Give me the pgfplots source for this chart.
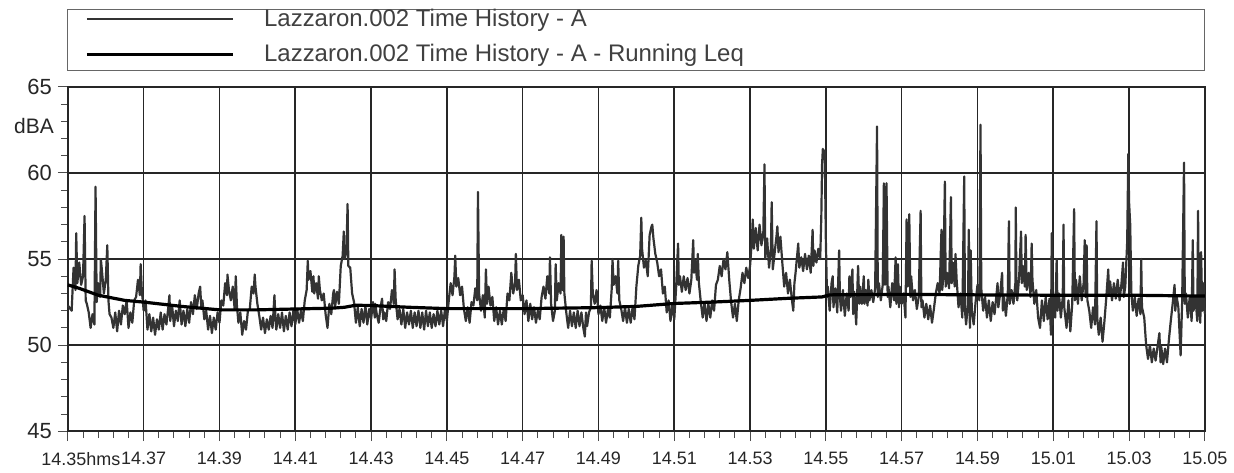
\documentclass[border=0pt]{standalone}
\usepackage{fontspec}
\setmainfont{Liberation Sans}
\usepackage{pgfplots}
\pgfplotsset{compat=1.18}

\begin{document}
\begin{tikzpicture}
\begin{axis}[
  name=ax,
  width=569.5pt, height=172.5pt, scale only axis,
  xmin=0, xmax=30, ymin=45, ymax=65,
  xtick={0,2,...,30},
  xticklabels={14.35\rlap{hms}\hspace*{4pt},14.37,14.39,14.41,14.43,14.45,14.47,14.49,14.51,14.53,14.55,14.57,14.59,15.01,15.03,15.05},
  ytick={45,50,...,65},
  minor x tick num=4, minor y tick num=4,
  tick pos=left, tick align=outside,
  major tick length=5pt, minor tick length=3.5pt,
  grid=major,
  major grid style={black!85, line width=0.8pt},
  axis line style={black!85, line width=0.8pt},
  tick style={black!70, line width=0.5pt},
  xticklabel style={font=\fontsize{9}{11}\selectfont, text=black!85, yshift=-2pt},
  yticklabel style={font=\fontsize{11}{12}\selectfont, text=black!85, xshift=0.5pt},
  /pgf/number format/assume math mode=true,
  ylabel={dBA},
  ylabel style={rotate=-90, at={(axis description cs:0,0.885)}, anchor=east, xshift=-3.5pt, font=\fontsize{10.5}{12}\selectfont, text=black!85},
  clip=false,
  legend style={draw=none, fill=none, at={(0,1)}, anchor=south west, xshift=8.5pt, yshift=9pt,
    font=\fontsize{12}{14}\selectfont, text=black!75, row sep=3.5pt, inner sep=0pt,
    cells={anchor=west}, /tikz/every odd column/.append style={column sep=13pt}},
  legend image code/.code={\draw[#1] (0pt,0pt) -- (73pt,0pt);},
]
% time history (A-weighted level)
\addplot[black!80, line width=1.1pt, line join=round] coordinates {
(0,52.3) (0.1,52.0) (0.15,54.5) (0.2,53.2) (0.22,56.5) (0.25,53.6) (0.3,54.8) (0.35,53.5) (0.4,54.0) (0.44,57.5) (0.47,52.6) (0.5,52.4) (0.55,51.9) (0.6,51.0) (0.65,51.8) (0.7,51.2) (0.73,59.2) (0.76,52.5) (0.8,53.6) (0.85,52.8) (0.87,55.0) (0.9,54.3) (0.95,53.0) (1.0,53.8) (1.04,55.8) (1.07,52.6) (1.1,51.8) (1.15,51.6) (1.2,51.0) (1.25,51.9) (1.3,50.8) (1.35,52.0) (1.4,51.2) (1.45,52.3) (1.5,51.8) (1.55,52.6) (1.6,51.0) (1.65,51.9) (1.7,51.3) (1.75,52.6) (1.8,52.8) (1.85,53.8) (1.9,52.9) (1.92,54.7) (1.95,53.2) (2.0,52.0) (2.05,52.6)
(2.1,50.9) (2.15,51.8) (2.2,50.8) (2.25,51.6) (2.3,50.6) (2.35,51.5) (2.4,50.9) (2.45,51.9) (2.5,50.9) (2.55,51.8) (2.6,51.2) (2.65,52.2) (2.68,52.9) (2.7,51.4) (2.75,52.3) (2.8,51.1) (2.85,52.0) (2.9,51.4) (2.95,52.6) (3.0,51.2) (3.05,52.0) (3.1,51.1) (3.15,52.1) (3.2,51.3) (3.25,52.5) (3.3,51.8) (3.35,52.9) (3.4,52.1) (3.45,53.0) (3.49,53.4) (3.52,52.2) (3.55,52.6) (3.6,51.5) (3.65,52.0) (3.7,50.9) (3.75,51.7) (3.8,50.7) (3.85,51.6) (3.9,50.9) (3.95,51.9) (4.0,51.3) (4.05,52.6) (4.1,52.3) (4.15,53.6) (4.2,52.9) (4.21,54.1) (4.25,53.2) (4.3,52.6) (4.35,53.4) (4.4,52.1) (4.43,54.0) (4.46,52.3) (4.5,51.3) (4.55,51.9) (4.6,50.6) (4.65,51.4) (4.7,50.9) (4.75,52.0) (4.8,52.1) (4.85,53.4) (4.9,53.0) (4.93,54.1) (4.95,53.4) (5.0,52.4)
(5.05,51.7) (5.1,50.9) (5.15,51.6) (5.2,50.7) (5.25,51.5) (5.3,50.9) (5.35,51.7) (5.4,51.0) (5.45,52.9) (5.48,51.4) (5.5,50.9) (5.55,51.8) (5.6,51.0) (5.65,51.9) (5.7,50.8) (5.75,51.7) (5.8,50.9) (5.85,51.9) (5.9,51.1) (5.95,52.0) (6.0,51.2) (6.05,52.1) (6.1,51.3) (6.15,52.0) (6.2,51.4) (6.25,52.6) (6.3,53.2) (6.33,54.9) (6.35,53.8) (6.4,54.3) (6.45,53.1) (6.48,54.0) (6.5,53.0) (6.55,53.6) (6.6,52.7) (6.62,54.0) (6.65,53.2) (6.7,52.6) (6.75,53.0) (6.8,51.8) (6.85,51.0) (6.9,52.4) (6.95,51.8) (7.0,53.0) (7.02,53.2) (7.05,52.2) (7.1,53.1) (7.15,52.4) (7.2,54.6) (7.25,55.2) (7.28,56.6) (7.3,55.0) (7.35,55.4) (7.38,58.2) (7.4,54.6) (7.45,54.5) (7.5,53.0) (7.55,52.5) (7.6,51.3) (7.65,52.2) (7.7,51.1) (7.75,52.1) (7.8,51.3) (7.85,52.3) (7.9,51.2) (7.95,52.1) (8.0,51.5) (8.05,52.5) (8.1,51.6) (8.11,52.4) (8.15,51.8) (8.2,51.3) (8.25,52.2) (8.29,52.7) (8.32,51.5) (8.35,51.9) (8.4,51.4) (8.45,52.5) (8.5,52.1) (8.55,53.2) (8.6,52.4) (8.62,54.4) (8.65,52.6) (8.7,51.5) (8.75,52.1) (8.8,51.2) (8.85,52.1) (8.9,51.0) (8.95,51.9) (9.0,51.2) (9.05,52.0) (9.1,51.0) (9.15,51.9) (9.2,51.1) (9.25,52.0) (9.3,51.0) (9.35,51.9) (9.4,50.9) (9.45,52.0) (9.5,51.1) (9.55,51.9) (9.6,51.0) (9.65,51.8) (9.7,51.1) (9.75,52.0) (9.8,51.2) (9.85,52.0) (9.9,51.1) (9.95,52.1) (10.0,51.4)
(10.05,52.6) (10.1,53.6) (10.15,52.9) (10.2,54.0) (10.22,55.2) (10.25,53.4) (10.3,53.9) (10.35,52.9) (10.4,53.4) (10.45,52.1) (10.5,51.4) (10.55,52.2) (10.6,51.3) (10.65,52.5) (10.7,52.3) (10.75,53.3) (10.8,52.6) (10.82,58.9) (10.85,53.0) (10.9,52.0) (10.95,52.9) (11.0,51.6) (11.03,54.4) (11.06,52.4) (11.1,53.4) (11.15,52.3) (11.2,52.8) (11.25,51.4) (11.3,52.2) (11.35,51.2) (11.4,52.0) (11.45,51.2) (11.5,52.1) (11.55,51.4) (11.6,53.0) (11.65,52.6) (11.7,54.2) (11.75,53.0) (11.8,53.6) (11.82,55.3) (11.85,53.2) (11.9,53.8) (11.95,52.6) (12.0,52.9) (12.05,51.8) (12.1,52.6) (12.15,51.4) (12.2,52.4) (12.25,51.5) (12.3,52.2) (12.35,51.3) (12.4,52.0) (12.45,51.5) (12.5,52.8) (12.55,53.4) (12.6,52.7) (12.65,54.0) (12.7,53.0) (12.72,55.1) (12.75,52.4) (12.8,51.4) (12.85,52.0) (12.87,54.7) (12.9,52.6) (12.95,53.6) (13.0,53.0) (13.02,56.4) (13.05,53.2) (13.08,56.3) (13.1,53.0) (13.15,51.9) (13.2,51.0) (13.25,52.0) (13.3,51.1) (13.35,51.9) (13.4,51.0) (13.45,52.0) (13.5,51.1) (13.55,51.9) (13.6,51.0) (13.64,50.5) (13.67,51.9) (13.7,51.1) (13.75,51.9) (13.8,52.2) (13.82,54.9) (13.85,53.0) (13.9,52.4) (13.95,53.2) (14.0,51.8) (14.05,52.3) (14.1,51.4) (14.15,52.2) (14.2,51.3) (14.25,52.1) (14.3,51.6) (14.35,53.3) (14.37,55.0) (14.4,53.5) (14.45,54.0) (14.5,53.0) (14.52,54.9) (14.55,52.6) (14.6,52.1) (14.65,51.4) (14.7,52.2) (14.75,51.3) (14.8,52.1) (14.85,51.3) (14.9,52.2) (14.95,51.5)
(15.0,53.4) (15.05,54.6) (15.1,55.2) (15.13,57.4) (15.15,55.6) (15.2,54.5) (15.25,54.9) (15.3,54.0) (15.35,56.4) (15.4,56.9) (15.42,57.0) (15.45,56.2) (15.5,55.3) (15.55,54.8) (15.6,54.0) (15.65,54.4) (15.7,53.0) (15.75,53.4) (15.8,51.9) (15.85,52.6) (15.9,51.4) (15.95,52.4) (16.0,51.5) (16.05,53.4) (16.1,55.9) (16.12,53.5) (16.15,54.0) (16.2,53.1) (16.25,54.0) (16.3,53.2) (16.35,53.9) (16.4,53.0) (16.45,53.8) (16.5,56.1) (16.52,54.2) (16.55,54.9) (16.6,53.8) (16.62,55.3) (16.65,53.6) (16.7,52.5) (16.75,51.6) (16.8,52.5) (16.85,51.4) (16.9,52.4) (16.95,51.6) (17.0,52.6) (17.05,52.0) (17.1,53.5) (17.15,53.8) (17.2,54.6) (17.25,54.0) (17.3,55.0) (17.35,54.4) (17.4,55.4) (17.45,53.8) (17.5,52.5) (17.55,51.6) (17.6,52.4) (17.65,51.4) (17.7,52.6) (17.75,53.3) (17.8,54.2) (17.85,53.6) (17.9,54.5) (17.95,53.9) (18.0,54.6) (18.05,56.2) (18.07,57.3) (18.1,55.6) (18.15,56.8) (18.2,55.5) (18.25,57.0) (18.3,55.8) (18.35,56.6) (18.38,60.5) (18.4,55.0) (18.45,56.2) (18.5,54.5) (18.55,55.6) (18.57,58.3) (18.6,54.4) (18.65,55.4) (18.7,56.4) (18.72,56.9) (18.75,55.4) (18.8,56.3) (18.85,54.8) (18.9,53.4) (18.95,54.2) (19.0,53.0) (19.05,53.8) (19.1,52.7) (19.14,52.0) (19.17,53.6) (19.2,54.2) (19.25,55.4) (19.27,55.9) (19.3,54.5) (19.35,55.1) (19.4,54.3) (19.45,55.3) (19.5,54.4) (19.55,55.2) (19.6,54.2) (19.65,56.7) (19.67,54.6) (19.7,55.5) (19.75,54.8) (19.8,55.6) (19.85,55.0) (19.88,57.5) (19.9,60.5) (19.92,61.4) (19.95,60.8) (19.97,61.3) (20.0,56.0) (20.03,52.8)
(20.05,53.4) (20.1,52.0) (20.15,53.6) (20.18,54.0) (20.2,52.2) (20.25,53.3) (20.3,51.9) (20.35,55.5) (20.37,52.8) (20.4,52.0) (20.45,53.2) (20.5,51.7) (20.55,53.0) (20.6,52.0) (20.62,54.0) (20.65,52.8) (20.7,54.4) (20.72,51.8) (20.75,53.1) (20.8,51.2) (20.85,54.6) (20.88,52.4) (20.9,53.4) (20.95,52.4) (21.0,54.0) (21.02,52.4) (21.05,53.2) (21.1,52.3) (21.12,53.8) (21.15,52.6) (21.2,53.2) (21.25,52.5) (21.3,53.3) (21.35,62.7) (21.37,52.8) (21.4,53.6) (21.45,52.6) (21.5,53.5) (21.53,59.4) (21.56,53.5) (21.6,59.4) (21.63,52.8) (21.65,53.4) (21.7,52.2) (21.75,53.6) (21.8,52.6) (21.84,55.1) (21.86,52.4) (21.9,54.7) (21.93,52.2) (21.95,53.4) (22.0,52.4) (22.05,53.0) (22.1,51.6) (22.13,57.3) (22.16,53.4) (22.2,57.6) (22.23,52.8) (22.25,54.0) (22.3,52.6) (22.35,53.2) (22.4,52.1) (22.45,52.8) (22.5,57.8) (22.52,52.2) (22.55,52.6) (22.6,51.6) (22.65,52.4) (22.7,51.5) (22.75,52.3) (22.8,51.3) (22.85,52.1) (22.9,53.0) (22.95,53.6) (23.0,53.0) (23.05,56.7) (23.07,53.2) (23.1,54.0) (23.14,59.5) (23.16,53.4) (23.2,54.2) (23.25,53.3) (23.3,58.6) (23.32,53.6) (23.35,54.8) (23.4,53.4) (23.42,55.3) (23.45,53.8) (23.5,52.2) (23.55,53.0) (23.6,51.6) (23.65,59.8) (23.67,52.0) (23.7,51.2) (23.75,52.4) (23.77,56.7) (23.8,51.0) (23.82,55.5) (23.85,52.0) (23.9,51.2) (23.95,52.5) (24.0,53.5) (24.05,52.6) (24.08,62.8) (24.1,53.3) (24.15,52.0) (24.2,52.8) (24.25,51.6) (24.3,52.6) (24.35,51.4) (24.4,52.5) (24.45,51.8) (24.5,52.9) (24.53,53.6) (24.55,52.2) (24.6,53.0) (24.65,54.2) (24.67,52.0) (24.7,52.8) (24.75,51.7) (24.8,53.0) (24.83,57.2) (24.85,52.4) (24.9,53.2)
(24.95,52.4) (25.0,53.6) (25.01,58.0) (25.03,53.0) (25.05,52.6) (25.1,54.0) (25.15,56.6) (25.17,53.6) (25.2,54.6) (25.25,53.4) (25.27,56.4) (25.3,53.2) (25.35,54.2) (25.4,52.8) (25.43,55.9) (25.45,53.8) (25.5,52.4) (25.55,53.2) (25.6,51.6) (25.65,51.0) (25.7,52.6) (25.75,51.4) (25.8,52.8) (25.85,51.5) (25.9,52.7) (25.94,50.6) (25.96,56.5) (25.98,51.2) (26.0,52.8) (26.05,51.6) (26.09,55.0) (26.11,52.0) (26.15,53.0) (26.2,51.6) (26.25,52.8) (26.27,57.0) (26.29,52.2) (26.35,51.0) (26.4,52.6) (26.45,50.8) (26.5,52.4) (26.55,57.9) (26.57,52.6) (26.6,53.8) (26.65,52.4) (26.7,54.0) (26.75,52.6) (26.8,53.6) (26.83,56.1) (26.85,52.8) (26.88,55.8) (26.9,52.6) (26.95,52.0) (27.0,51.0) (27.05,52.2) (27.1,51.2) (27.14,57.2) (27.16,51.6) (27.2,50.6) (27.25,51.6) (27.3,50.2) (27.35,51.4) (27.4,52.8) (27.45,54.4) (27.47,53.0) (27.5,53.7) (27.55,52.6) (27.6,53.6) (27.65,52.7) (27.7,53.8) (27.75,52.6) (27.8,53.6) (27.84,54.8) (27.86,52.8) (27.9,53.4) (27.95,56.0) (27.98,61.1) (28.0,58.3) (28.03,57.0) (28.06,53.0) (28.1,52.0) (28.15,52.8) (28.2,51.7) (28.25,52.7) (28.3,51.8) (28.32,55.0) (28.34,52.2) (28.4,51.6) (28.45,50.0) (28.5,49.2) (28.55,50.0) (28.6,49.0) (28.65,49.8) (28.7,49.1) (28.75,49.9) (28.8,50.7) (28.83,49.0) (28.85,49.9) (28.9,48.9) (28.95,49.8) (29.0,49.0) (29.05,50.3) (29.1,51.4) (29.15,52.4) (29.2,53.5) (29.22,52.0) (29.25,52.9) (29.3,52.2) (29.36,49.4) (29.4,52.5) (29.45,60.6) (29.47,52.4) (29.5,53.0) (29.55,51.6) (29.6,52.8) (29.65,51.4) (29.68,56.1) (29.7,52.0) (29.75,52.8) (29.8,51.4) (29.82,57.8) (29.84,52.4) (29.88,51.3) (29.9,55.4) (29.93,52.0) (29.97,53.6) (30.0,51.8)
};
\addlegendentry{Lazzaron.002 Time History - A}
% running Leq
\addplot[black, line width=1.6pt] coordinates {
(0,53.5) (0.3,53.3) (0.8,52.9) (1.5,52.6) (2,52.5) (3,52.25) (4,52.05) (5,52.05) (6,52.1) (7,52.15) (7.3,52.2) (7.6,52.32) (8,52.3) (9,52.2) (10,52.12) (12,52.12) (14,52.18) (15,52.25) (16,52.42) (17,52.5) (18,52.6) (19,52.72) (19.9,52.8) (20.1,52.92) (22,52.95) (24,52.92) (26,52.9) (28,52.9) (30,52.85)
};
\addlegendentry{Lazzaron.002 Time History - A - Running Leq}
\draw[black!60, line width=0.5pt] ([yshift=8pt]rel axis cs:0,1) rectangle ([yshift=38.5pt]rel axis cs:1,1);
\end{axis}
\path (-34pt,-20.5pt) rectangle (583pt,216pt);
\end{tikzpicture}
\end{document}
